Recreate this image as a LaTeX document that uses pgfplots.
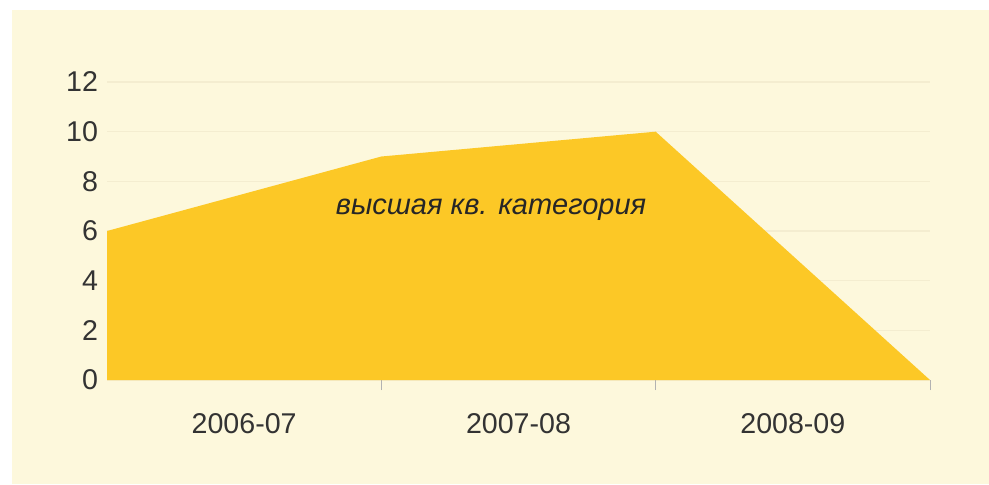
\documentclass[border=0pt]{standalone}
\usepackage{pgfplots}
\pgfplotsset{compat=1.18}
\usepackage{fontspec}
\setmainfont{Liberation Sans}
\definecolor{panel}{HTML}{FDF8DC}
\definecolor{areafill}{HTML}{FCC826}
\definecolor{gridc}{HTML}{F4EDD0}
\begin{document}
\begin{tikzpicture}
% 1 px of the reference = 0.5pt; axis origin at px (107,380)
\fill[white] (-53.5pt,-52pt) rectangle (441pt,190pt);
\fill[panel] (-47.5pt,-52pt) rectangle (441pt,185pt);
\begin{axis}[
    scale only axis,
    width=411.5pt, height=149pt,
    xmin=0, xmax=3, ymin=0, ymax=12,
    axis line style={draw=none},
    ytick={0,2,...,12},
    ymajorgrids,
    grid style={gridc, line width=0.8pt},
    xtick={0.5,1.5,2.5},
    xticklabels={2006-07,2007-08,2008-09},
    xtick pos=bottom,
    ytick pos=left,
    extra x ticks={1,2,3},
    extra x tick labels={},
    extra x tick style={grid=none, major tick length=5pt, tick style={gray!60, line width=0.5pt}, tick align=outside},
    major tick length=0pt,
    tick align=outside,
    /pgf/number format/assume math mode=true,
    tick label style={font=\fontsize{14.3}{16}\selectfont, text=black!80},
    xticklabel style={yshift=-13pt},
    yticklabel style={xshift=-1pt},
]
\addplot[fill=areafill, draw=none] coordinates {(0,6) (1,9) (2,10) (3,0)} \closedcycle;
\node[font=\fontsize{14.5}{16}\itshape, text=black!85] at (axis cs:1.4,6.85) {высшая кв. категория};
\end{axis}
\pgfresetboundingbox
\path[use as bounding box] (-53.5pt,-52pt) rectangle (441pt,190pt);
\end{tikzpicture}
\end{document}
